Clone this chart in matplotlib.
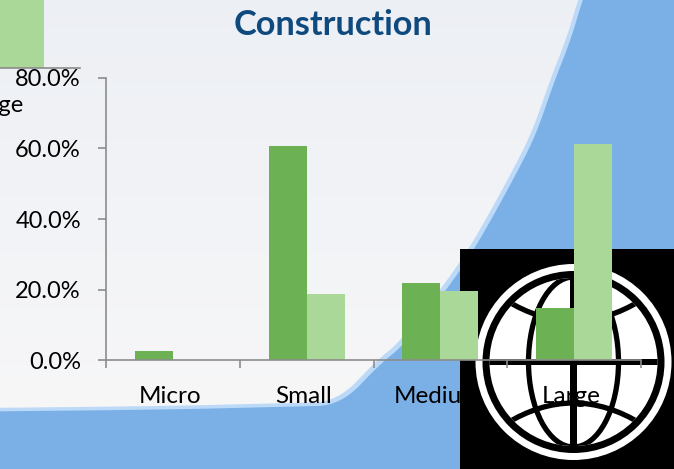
import numpy as np
import matplotlib
matplotlib.use("Agg")
import matplotlib.pyplot as plt
from matplotlib.patches import Rectangle, Circle, Ellipse, PathPatch, Polygon
from matplotlib.path import Path
from matplotlib.transforms import ScaledTranslation

plt.rcParams['font.family'] = ['Lato', 'DejaVu Sans']

categories = ["Micro", "Small", "Medium", "Large"]
series_dark = [2.6, 60.7, 21.8, 14.8]
series_light = [0.0, 18.7, 19.6, 61.3]
y_ticks = [0, 20, 40, 60, 80]
y_labels = ["0.0%", "20.0%", "40.0%", "60.0%", "80.0%"]
title = "Construction"
legend_label = "Large"

W, H = 674, 469
DARK, LIGHT, GRAY = "#6DB155", "#A9D898", "#8C8C8C"
fig = plt.figure(figsize=(W/100, H/100), dpi=100)


def smooth(pts, n=3):
    pts = np.asarray(pts, float)
    for _ in range(n):
        q = 0.75*pts[:-1] + 0.25*pts[1:]
        r = 0.25*pts[:-1] + 0.75*pts[1:]
        mid = np.empty((2*len(q), 2))
        mid[0::2], mid[1::2] = q, r
        pts = np.vstack([pts[0], mid, pts[-1]])
    return pts


# background layer in pixel coordinates
bg = fig.add_axes([0, 0, 1, 1], zorder=0)
bg.set_xlim(0, W); bg.set_ylim(H, 0); bg.axis("off")
bg.add_patch(Rectangle((0, 0), W, H, fc="#7BB0E7", ec="none"))
curve = [(-20, 408), (170, 406), (290, 403), (337, 402), (377, 360), (400, 342), (440, 290), (460, 262),
         (480, 230), (513, 170), (533, 130), (550, 80), (567, 37), (578, 0), (585, -20)]
line = smooth(curve)
edge = np.vstack([line + np.array([3.5, 3.5]), [[-30, -30]]])
white = np.vstack([line, [[-30, -30]]])
bg.add_patch(Polygon(edge, closed=True, fc="#BCDAF8", ec="none"))
wp = Polygon(white, closed=True, fc="none", ec="none")
bg.add_patch(wp)
top, bot = np.array([236, 239, 244]), np.array([247, 247, 248])
grad = np.linspace(0, 1, 256)[:, None, None] * (bot - top) + top
im = bg.imshow(grad.astype(np.uint8), extent=(-30, W, 420, -30), aspect="auto", zorder=1)
im.set_clip_path(wp)
bg.set_xlim(0, W); bg.set_ylim(H, 0)

# logo
cx, cy = 573.5, 362
bg.add_patch(Rectangle((460, 249), 214, 220, fc="black", ec="none", zorder=2))
bg.add_patch(Circle((cx, cy), 98, fc="white", ec="none", zorder=3))
bg.add_patch(Circle((cx, cy), 91, fc="black", ec="none", zorder=3))
globe = Circle((cx, cy), 84, fc="white", ec="none", zorder=3)
bg.add_patch(globe)
lw = 3.8
for art in [
    Ellipse((cx, cy), 90, 170, fc="none", ec="black", lw=lw, zorder=4),
    PathPatch(Path([(cx-68, cy-62), (cx, cy-20), (cx+68, cy-62)], [1, 3, 3]), fc="none", ec="black", lw=lw, zorder=4),
    PathPatch(Path([(cx-68, cy+62), (cx, cy+20), (cx+68, cy+62)], [1, 3, 3]), fc="none", ec="black", lw=lw, zorder=4),
    Rectangle((cx-3.5, cy-85), 7, 170, fc="black", ec="none", zorder=4),
    Rectangle((cx-85, cy-2.5), 170, 6, fc="black", ec="none", zorder=4),
]:
    bg.add_patch(art)
    art.set_clip_path(globe)

# clipped legend fragment
bg.add_patch(Rectangle((0, 0), 44, 68, fc=LIGHT, ec="none", zorder=5))
bg.plot([0, 80], [68.5, 68.5], color=GRAY, lw=1.2, zorder=5)
bg.text(24, 105, legend_label, ha="right", va="center", fontsize=17, color="black", zorder=6)

# chart
ax = fig.add_axes([106/W, 1-360/H, (641-106)/W, (360-78)/H], zorder=2)
ax.patch.set_alpha(0)
x = np.arange(len(categories))
bw = 38/133.75
ax.bar(x-bw/2, series_dark, bw, color=DARK)
ax.bar(x+bw/2, series_light, bw, color=LIGHT)
ax.set_xlim(-0.5, 3.5); ax.set_ylim(0, 80)
ax.set_yticks(y_ticks, y_labels)
ax.set_xticks(np.arange(-0.5, 4, 1), [""]*5)
ax.set_xticks(x, categories, minor=True)
ax.tick_params(axis="y", length=6, width=1.2, color=GRAY, labelsize=17, pad=12)
ax.tick_params(axis="x", which="major", length=6, width=1.2, color=GRAY)
ax.tick_params(axis="x", which="minor", length=0, labelsize=17.5, pad=18.5)
shift = ScaledTranslation(-3/100, 0, fig.dpi_scale_trans)
for lab in ax.get_xticklabels(minor=True):
    lab.set_transform(lab.get_transform() + shift)
for s in ["top", "right"]:
    ax.spines[s].set_visible(False)
for s in ["left", "bottom"]:
    ax.spines[s].set_color(GRAY); ax.spines[s].set_linewidth(1.2)
    ax.spines[s].set_zorder(5)
fig.text(333/W, 1-25/H, title, ha="center", va="center", fontsize=24.7, fontweight="bold", color="#0F4A7F", zorder=10)
fig.savefig("out.png", dpi=100)
